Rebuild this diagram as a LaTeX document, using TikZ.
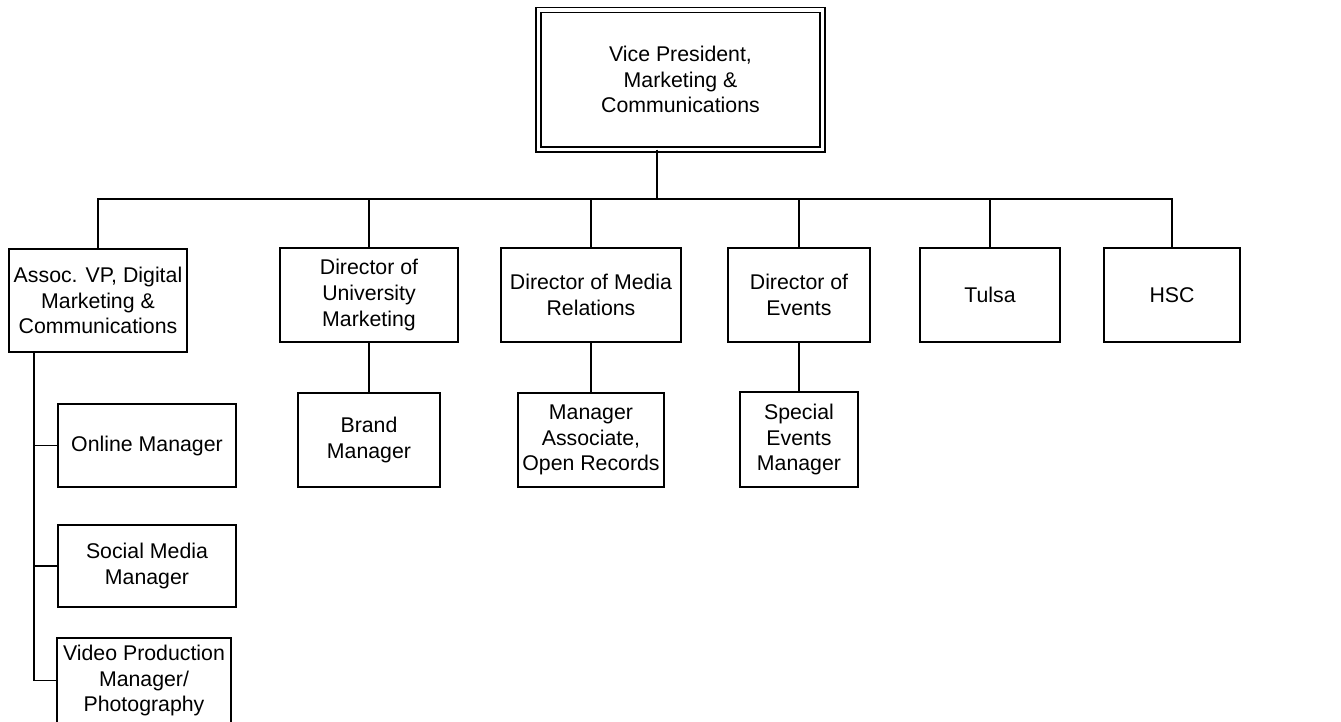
\documentclass[tikz,border=0pt]{standalone}
\usepackage{fontspec}
\setmainfont{Liberation Sans}
\begin{document}
\begin{tikzpicture}[x=1pt,y=-1pt,line width=1.8pt,
        font=\fontsize{21.3}{25.6}\selectfont,
        box/.style={draw,align=center,inner sep=2pt,outer sep=0pt},
        topbox/.style={draw,double,line width=1.5pt,double distance=3.2pt,align=center,outer sep=0pt}]
    \useasboundingbox (0,0) rectangle (1341,721);
    \node[topbox,minimum width=284pt,minimum height=139.5pt] (vp) at (680.5,79.75) {Vice President,\\Marketing \&\\Communications};
    \coordinate (bus) at (657,199);
    % second row
    \node[box,minimum width=178pt,minimum height=103pt] (assoc) at (98,300.5) {Assoc. VP, Digital\\Marketing \&\\Communications};
    \node[box,minimum width=178pt,minimum height=94pt] (univ) at (369,295) {Director of\\University\\Marketing};
    \node[box,minimum width=180pt,minimum height=94pt] (media) at (591,295) {Director of Media\\Relations};
    \node[box,minimum width=142pt,minimum height=94pt] (events) at (799,295) {Director of\\Events};
    \node[box,minimum width=140pt,minimum height=94pt] (tulsa) at (990,295) {Tulsa};
    \node[box,minimum width=136pt,minimum height=94pt] (hsc) at (1172,295) {HSC};
    % third row
    \node[box,minimum width=142pt,minimum height=94pt] (brand) at (369,440) {Brand\\Manager};
    \node[box,minimum width=146pt,minimum height=94pt] (openrec) at (591,440) {Manager\\Associate,\\Open Records};
    \node[box,minimum width=118pt,minimum height=95pt] (special) at (799,439.5) {Special\\Events\\Manager};
    \node[box,minimum width=178pt,minimum height=83pt] (online) at (147,445.5) {Online Manager};
    \node[box,minimum width=178pt,minimum height=82pt] (social) at (147,566) {Social Media\\Manager};
    \node[box,minimum width=174pt,minimum height=85pt,anchor=north] (video) at (144,638) {Video Production\\Manager/\\Photography};
    \draw (bus |- vp.south) -- (bus);
    \foreach \n in {assoc,univ,media,events,tulsa,hsc}
        \draw (bus) -| (\n.north);
    \draw (univ) -- (brand);
    \draw (media) -- (openrec);
    \draw (events) -- (special);
    \draw ([xshift=25pt]assoc.south west) |- (online.west);
    \draw ([xshift=25pt]assoc.south west) |- (social.west);
    \draw ([xshift=25pt]assoc.south west) |- (video.west);
\end{tikzpicture}
\end{document}
